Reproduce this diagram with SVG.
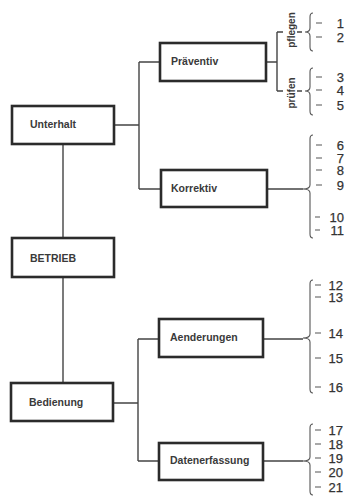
<svg xmlns="http://www.w3.org/2000/svg" width="346" height="497" viewBox="0 0 346 497">
<style>
.box{fill:#fff;stroke:#2b2b2b;stroke-width:2.6}
.lbl{font-family:"Liberation Sans",Arial,sans-serif;font-weight:bold;font-size:10.5px;fill:#3a3a3a}
.rot{font-family:"Liberation Sans",Arial,sans-serif;font-weight:bold;font-size:10px;fill:#3a3a3a;text-anchor:middle}
.num{font-family:"Liberation Sans",Arial,sans-serif;font-size:13px;fill:#333;stroke:#333;stroke-width:0.25;text-anchor:end}
.ln{fill:none;stroke:#444;stroke-width:1.4}
.br{fill:none;stroke:#555;stroke-width:1.1}
.ds{stroke:#555;stroke-width:1.1}
</style>
<rect width="346" height="497" fill="#fff"/>
<g id="connectors">
<path class="ln" d="M63 144V238M63 277V383"/>
<path class="ln" d="M114 125H139M139 62V189M139 62H160M139 189H161"/>
<path class="ln" d="M113 403H138M138 339V461M138 339H159M138 461H159"/>
<path class="ln" d="M266 62H277M277 32V91M277 32H283M277 91H283"/>
<path class="ln" d="M297 32H302M297 91H302"/>
<path class="ln" d="M267 189H303M263 339H303M263 461H303"/>
</g>
<g id="braces">
<path class="br" d="M313 13Q310 13 310 17L310 28Q310 32 305 32Q310 32 310 36L310 47Q310 51 313 51"/>
<path class="br" d="M313 68Q310 68 310 72L310 87Q310 91 305 91Q310 91 310 95L310 111Q310 115 313 115"/>
<path class="br" d="M313 135Q310 135 310 139L310 185Q310 189 303 189Q310 189 310 193L310 234Q310 238 313 238"/>
<path class="br" d="M313 280Q310 280 310 284L310 334Q310 338 303 338Q310 338 310 342L310 389Q310 393 313 393"/>
<path class="br" d="M313 424Q310 424 310 428L310 457Q310 461 303 461Q310 461 310 465L310 491Q310 495 313 495"/>
</g>
<g id="dashes">
<path class="ds" d="M316 23H322M316 37H322M316 77H322M316 90H322M316 105H322"/>
<path class="ds" d="M316 145H322M316 158H322M316 170H322M316 185H322M315 217H320M315 230H320"/>
<path class="ds" d="M315 285H321M315 297H321M315 333H321M315 358H321M315 387H321"/>
<path class="ds" d="M315 430H321M315 444H321M315 458H321M315 472H321M315 487H321"/>
</g>
<g id="n-unterhalt"><rect class="box" x="12" y="106" width="102" height="38"/><text class="lbl" x="30" y="128">Unterhalt</text></g>
<g id="n-betrieb"><rect class="box" x="12" y="238" width="102" height="39"/><text class="lbl" x="30" y="262">BETRIEB</text></g>
<g id="n-bedienung"><rect class="box" x="11" y="383" width="102" height="38"/><text class="lbl" x="29" y="406">Bedienung</text></g>
<g id="n-praeventiv"><rect class="box" x="160" y="43" width="106" height="38"/><text class="lbl" x="171" y="65">Präventiv</text></g>
<g id="n-korrektiv"><rect class="box" x="161" y="170" width="106" height="37"/><text class="lbl" x="171" y="192">Korrektiv</text></g>
<g id="n-aenderungen"><rect class="box" x="159" y="319" width="104" height="38"/><text class="lbl" x="170" y="341">Aenderungen</text></g>
<g id="n-datenerfassung"><rect class="box" x="159" y="443" width="104" height="37"/><text class="lbl" x="170" y="464">Datenerfassung</text></g>
<g id="sub-labels">
<text class="rot" transform="translate(295 30) rotate(-90)">pflegen</text>
<text class="rot" transform="translate(295 93) rotate(-90)">prüfen</text>
</g>
<g id="numbers">
<text class="num" x="344" y="28">1</text>
<text class="num" x="344" y="42">2</text>
<text class="num" x="344" y="82">3</text>
<text class="num" x="344" y="95">4</text>
<text class="num" x="344" y="110">5</text>
<text class="num" x="344" y="150">6</text>
<text class="num" x="344" y="163">7</text>
<text class="num" x="344" y="175">8</text>
<text class="num" x="344" y="190">9</text>
<text class="num" x="344" y="222">10</text>
<text class="num" x="344" y="235">11</text>
<text class="num" x="343" y="290">12</text>
<text class="num" x="343" y="302">13</text>
<text class="num" x="343" y="338">14</text>
<text class="num" x="343" y="363">15</text>
<text class="num" x="343" y="392">16</text>
<text class="num" x="343" y="435">17</text>
<text class="num" x="343" y="449">18</text>
<text class="num" x="343" y="463">19</text>
<text class="num" x="343" y="477">20</text>
<text class="num" x="343" y="492">21</text>
</g>
</svg>
